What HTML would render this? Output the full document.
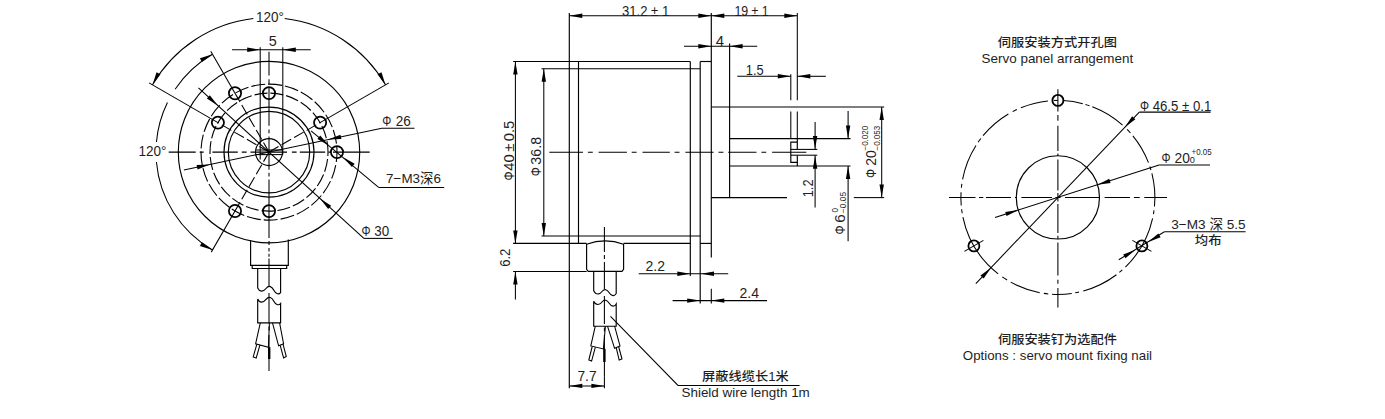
<!DOCTYPE html>
<html lang="zh">
<head>
<meta charset="utf-8">
<title>Encoder outline drawing</title>
<style>
html,body{margin:0;padding:0;background:#fff}
svg{display:block}
.n{fill:none;stroke:#000;stroke-width:1.05}
.k{fill:none;stroke:#000;stroke-width:2.4}
.m{fill:none;stroke:#000;stroke-width:1.15}
.h{fill:none;stroke:#000;stroke-width:1.75}
.c{fill:none;stroke:#000;stroke-width:1.1;stroke-dasharray:24 3 4 3}
.c2{fill:none;stroke:#000;stroke-width:1.1;stroke-dasharray:11 3.5}
.c3{fill:none;stroke:#000;stroke-width:1.1;stroke-dasharray:33 4 5 4}
.c4{fill:none;stroke:#000;stroke-width:1.1;stroke-dasharray:26.5 3.5 4 2.5}
.h2{fill:none;stroke:#000;stroke-width:1.8}
.d1{fill:none;stroke:#000;stroke-width:1.1;stroke-dasharray:14 3;stroke-dashoffset:4}
.d2{fill:none;stroke:#000;stroke-width:1.1;stroke-dasharray:13 3;stroke-dashoffset:9}
.dd{fill:none;stroke:#000;stroke-width:1.1;stroke-dasharray:42 4 5 4}
.a{fill:#000;stroke:none}
.t{fill:#1e1e1e;font-family:"Liberation Sans","Noto Sans CJK SC",sans-serif}
.tc{fill:#1e1e1e;font-family:"Liberation Sans","Noto Sans CJK SC",sans-serif;font-weight:500}
</style>
</head>
<body>
<svg width="1385" height="419" viewBox="0 0 1385 419">
<rect x="0" y="0" width="1385" height="419" fill="#ffffff"/>
<circle class="m" cx="269" cy="152.1" r="90.7"/>
<circle class="m" cx="269" cy="152.1" r="45"/>
<circle class="m" cx="269" cy="152.1" r="40.7"/>
<circle class="m" cx="269" cy="152.1" r="13.5"/>
<circle class="d1" cx="269" cy="152.1" r="68"/>
<circle class="d2" cx="269" cy="152.1" r="59"/>
<circle class="h" cx="337" cy="152.1" r="6.1"/>
<circle class="h" cx="235" cy="93.21" r="6.1"/>
<circle class="h" cx="235" cy="210.99" r="6.1"/>
<circle class="h" cx="320.1" cy="122.6" r="6.1"/>
<circle class="h" cx="269" cy="93.1" r="6.1"/>
<circle class="h" cx="217.9" cy="122.6" r="6.1"/>
<circle class="h" cx="269" cy="211.1" r="6.1"/>
<path class="n" d="M168.7 152.1 H195.7 M199.7 152.1 H203.7 M212.4 152.1 H237.8 M241.8 152.1 H246.6 M250.5 152.1 H287 M291.9 152.1 H296.6 M299.8 152.1 H325.2 M328.4 152.1 H331 M333 152.1 H369.7"/>
<path class="n" d="M269 51.8 V75.6 M269 79.3 V84.3 M269 88 V125.7 M269 129.5 V133.2 M269 136.5 V169.7 M269 172.8 V176.5 M269 179.5 V238 M269 241 V245 M269 248 V251.5 M269 253.7 V256.7 M269 258.6 V287 M269 293 V323.5 M269 326.5 V330.5 M269 335 V371"/>
<line class="n" x1="260.2" y1="47.2" x2="260.2" y2="159.5"/>
<line class="n" x1="282.8" y1="47.2" x2="282.8" y2="154.6"/>
<line class="n" x1="232" y1="49.8" x2="310.7" y2="49.8"/>
<polygon class="a" points="260.2,49.8 247.2,52 247.2,47.6"/>
<polygon class="a" points="282.8,49.8 295.8,47.6 295.8,52"/>
<text class="t" x="268.8" y="46.3" font-size="14" textLength="8" lengthAdjust="spacingAndGlyphs">5</text>
<line class="n" x1="255.7" y1="150" x2="282.5" y2="150"/>
<line class="n" x1="255.7" y1="154.6" x2="282.5" y2="154.6"/>
<line class="c2" x1="269" y1="152.1" x2="320.1" y2="122.6"/>
<line class="n" x1="320.1" y1="122.6" x2="388.94" y2="82.85"/>
<line class="c2" x1="269" y1="152.1" x2="217.9" y2="122.6"/>
<line class="n" x1="217.9" y1="122.6" x2="149.06" y2="82.85"/>
<line class="c2" x1="269" y1="152.1" x2="235" y2="93.21"/>
<line class="n" x1="235" y1="93.21" x2="210.75" y2="51.21"/>
<line class="c2" x1="269" y1="152.1" x2="235" y2="210.99"/>
<line class="n" x1="235" y1="210.99" x2="211.25" y2="252.13"/>
<path class="n" d="M385.48 84.85 A134.5 134.5 0 0 0 284.69 18.52"/>
<path class="n" d="M253.31 18.52 A134.5 134.5 0 0 0 152.52 84.85"/>
<polygon class="a" points="385.48,84.85 377.56,74.31 381.47,72.29"/>
<polygon class="a" points="152.52,84.85 156.53,72.29 160.44,74.31"/>
<text class="t" x="256.1" y="21.8" font-size="14" textLength="27.9" lengthAdjust="spacingAndGlyphs">120°</text>
<path class="n" d="M212.5 54.24 A113 113 0 0 0 175.1 89.24"/>
<path class="n" d="M167.44 102.56 A113 113 0 0 0 156.45 142.05"/>
<path class="n" d="M156.43 161.95 A113 113 0 0 0 212.5 249.96"/>
<polygon class="a" points="212.5,54.24 201.89,62.06 199.9,58.14"/>
<polygon class="a" points="212.5,249.96 199.9,246.06 201.89,242.14"/>
<text class="t" x="138.6" y="156.1" font-size="14" textLength="27.9" lengthAdjust="spacingAndGlyphs">120°</text>
<line class="n" x1="198.44" y1="87.89" x2="363.9" y2="238.4"/>
<line class="n" x1="363.9" y1="238.4" x2="392.7" y2="238.4"/>
<polygon class="a" points="217.97,105.66 206.87,98.54 209.83,95.29"/>
<polygon class="a" points="320.03,198.54 331.13,205.66 328.17,208.91"/>
<text class="t" y="235.9" font-size="14" lengthAdjust="spacingAndGlyphs"><tspan x="361.59" textLength="9.05" lengthAdjust="spacingAndGlyphs">Φ</tspan><tspan x="374.3" textLength="14.9" lengthAdjust="spacingAndGlyphs">30</tspan></text>
<line class="n" x1="183.87" y1="170.04" x2="381.8" y2="128.2"/>
<line class="n" x1="381.8" y1="128.2" x2="414.5" y2="128.2"/>
<polygon class="a" points="209.8,164.58 197.53,169.41 196.63,165.1"/>
<polygon class="a" points="328.2,139.62 340.47,134.79 341.37,139.1"/>
<text class="t" y="125.9" font-size="14" lengthAdjust="spacingAndGlyphs"><tspan x="382.19" textLength="9.05" lengthAdjust="spacingAndGlyphs">Φ</tspan><tspan x="395.8" textLength="15.1" lengthAdjust="spacingAndGlyphs">26</tspan></text>
<line class="n" x1="311.08" y1="130.88" x2="378.6" y2="187.4"/>
<line class="n" x1="378.6" y1="187.4" x2="444.2" y2="187.4"/>
<polygon class="a" points="328.87,145.45 317.42,138.92 320.21,135.51"/>
<polygon class="a" points="343.19,157.17 354.64,163.7 351.86,167.1"/>
<text class="t" x="386.12" y="182.8" font-size="13.6" textLength="54.86" lengthAdjust="spacingAndGlyphs">7−M3深6</text>
<path class="m" d="M250.6 240.8 V265.4 H288.3 V239.6"/>
<path class="m" d="M252.2 265.4 V268.5 H286.7 V265.4"/>
<path class="m" d="M257.7 268.5 V288 C259.5 292 263 292.3 266 288.5 C269 284.8 272 286.5 274 290.5 C276 294.5 279 294.6 280.6 292.6 V268.5"/>
<path class="m" d="M257.7 322.9 V299 C259.5 303 263 303.2 266 299.4 C269 295.7 272 297.4 274 301.4 C276 305.4 279 305.5 280.6 303.5 V322.9 Z"/>
<path class="n" d="M260.3 322.9 L255.6 343.8 L268.4 347.2 L269.4 322.9"/>
<path class="n" d="M272.5 322.9 L278.6 345.8 L283.6 343.8 L279.6 322.9"/>
<path class="n" d="M256.8 344.4 L253.2 356.9 L256.2 358 L259.9 345.2"/>
<path class="n" d="M280.2 345.4 L283.6 358 L286.3 356.5 L283 344.2"/>
<path class="k" d="M269.2 347.2 V359"/>
<line class="m" x1="513.1" y1="61.5" x2="690.3" y2="61.5"/>
<line class="m" x1="700.2" y1="61.5" x2="711.3" y2="61.5"/>
<line class="m" x1="541.5" y1="68.7" x2="700.2" y2="68.7"/>
<line class="m" x1="513.1" y1="243.4" x2="586.6" y2="243.4"/>
<line class="m" x1="623.6" y1="243.4" x2="690.3" y2="243.4"/>
<line class="m" x1="700.2" y1="243.4" x2="711.3" y2="243.4"/>
<line class="m" x1="541.5" y1="236" x2="700.2" y2="236"/>
<line class="m" x1="569.3" y1="12.9" x2="569.3" y2="388.3"/>
<line class="m" x1="578.5" y1="61.5" x2="578.5" y2="243.4"/>
<line class="m" x1="690.3" y1="61.5" x2="690.3" y2="275.9"/>
<line class="m" x1="700.2" y1="61.5" x2="700.2" y2="303.4"/>
<line class="m" x1="711.3" y1="12.9" x2="711.3" y2="257.5"/>
<line class="n" x1="711.3" y1="288.7" x2="711.3" y2="303.4"/>
<line class="m" x1="729.6" y1="43.5" x2="729.6" y2="197.6"/>
<line class="m" x1="711.3" y1="107" x2="884.2" y2="107"/>
<line class="m" x1="711.3" y1="197.6" x2="787" y2="197.6"/>
<line class="n" x1="853.8" y1="197.6" x2="884.2" y2="197.6"/>
<line class="m" x1="729.6" y1="138.6" x2="850.5" y2="138.6"/>
<line class="m" x1="729.6" y1="166" x2="850.5" y2="166"/>
<path class="m" d="M797.3 138.6 V149.4 M797.3 155.2 V166"/>
<path class="m" d="M797.3 142.1 H790.8 V162.4 H797.3"/>
<line class="n" x1="790.8" y1="149.4" x2="817.3" y2="149.4"/>
<line class="n" x1="790.8" y1="155.2" x2="817.3" y2="155.2"/>
<path class="n" d="M549.3 152.2 H583 M587.9 152.2 H592.8 M598.6 152.2 H626.9 M631.7 152.2 H636.6 M642.5 152.2 H669.8 M674.6 152.2 H679.5 M685.4 152.2 H713.6 M718.5 152.2 H723.4 M728.2 152.2 H756.5 M761.4 152.2 H766.2 M772.1 152.2 H806.3"/>
<line class="n" x1="569.3" y1="15.7" x2="797.3" y2="15.7"/>
<polygon class="a" points="569.3,15.7 582.3,13.5 582.3,17.9"/>
<polygon class="a" points="711.3,15.7 698.3,17.9 698.3,13.5"/>
<polygon class="a" points="711.3,15.7 724.3,13.5 724.3,17.9"/>
<polygon class="a" points="797.3,15.7 784.3,17.9 784.3,13.5"/>
<text class="t" x="622" y="15.9" font-size="14" textLength="47.2" lengthAdjust="spacingAndGlyphs">31.2 ± 1</text>
<text class="t" x="734.4" y="15.9" font-size="14" textLength="34.3" lengthAdjust="spacingAndGlyphs">19 ± 1</text>
<line class="n" x1="797.3" y1="12.9" x2="797.3" y2="100.3"/>
<line class="n" x1="790.8" y1="74.2" x2="790.8" y2="100.3"/>
<line class="n" x1="797.3" y1="111.5" x2="797.3" y2="138.6"/>
<line class="n" x1="790.8" y1="111.5" x2="790.8" y2="138.6"/>
<line class="n" x1="684" y1="46.2" x2="757.2" y2="46.2"/>
<polygon class="a" points="711.3,46.2 698.3,48.4 698.3,44"/>
<polygon class="a" points="729.6,46.2 742.6,44 742.6,48.4"/>
<text class="t" x="715.7" y="45.5" font-size="14" textLength="8.3" lengthAdjust="spacingAndGlyphs">4</text>
<line class="n" x1="737.3" y1="76.3" x2="790.8" y2="76.3"/>
<line class="n" x1="797.3" y1="76.3" x2="825.8" y2="76.3"/>
<polygon class="a" points="790.8,76.3 777.8,78.5 777.8,74.1"/>
<polygon class="a" points="797.3,76.3 810.3,74.1 810.3,78.5"/>
<text class="t" x="745.8" y="74.7" font-size="14" textLength="17.9" lengthAdjust="spacingAndGlyphs">1.5</text>
<line class="n" x1="515.4" y1="61.5" x2="515.4" y2="243.4"/>
<polygon class="a" points="515.4,61.5 517.6,74.5 513.2,74.5"/>
<polygon class="a" points="515.4,243.4 513.2,230.4 517.6,230.4"/>
<text class="t" font-size="14" style="word-spacing:-1.6px" transform="translate(513.7 178.7) rotate(-90)"><tspan x="-1.81" y="0" textLength="9.05" lengthAdjust="spacingAndGlyphs">Φ</tspan><tspan x="8.06" y="0" textLength="49.98" lengthAdjust="spacingAndGlyphs">40 ± 0.5</tspan></text>
<line class="n" x1="543.8" y1="68.7" x2="543.8" y2="236"/>
<polygon class="a" points="543.8,68.7 546,81.7 541.6,81.7"/>
<polygon class="a" points="543.8,236 541.6,223 546,223"/>
<text class="t" font-size="14" transform="translate(540.8 174.5) rotate(-90)"><tspan x="-1.81" y="0" textLength="9.05" lengthAdjust="spacingAndGlyphs">Φ</tspan><tspan x="9.66" y="0" textLength="27.98" lengthAdjust="spacingAndGlyphs">36.8</tspan></text>
<line class="n" x1="513.1" y1="271.4" x2="586.6" y2="271.4"/>
<line class="n" x1="515.4" y1="271.4" x2="515.4" y2="299.4"/>
<polygon class="a" points="515.4,271.4 517.6,284.4 513.2,284.4"/>
<text class="t" font-size="14" textLength="18.28" lengthAdjust="spacingAndGlyphs" transform="translate(510.3 266.84) rotate(-90)">6.2</text>
<path class="m" d="M586.6 244.3 Q605 237.4 623.6 244.3 V269.3 L622 271.3 H588.2 L586.6 269.3 Z"/>
<path class="m" d="M593.7 271.4 V290.7 C596 295.5 600 294.5 602.5 291 C604.5 288.5 607 289.5 609 292.5 C611.5 296.5 614.5 296.5 616.2 293.5 V271.4"/>
<path class="m" d="M593.7 326.2 V301.2 C596 306 600 305 602.5 301.5 C604.5 299 607 300 609 303 C611.5 307 614.5 307 616.2 304 V326.2 Z"/>
<path class="n" d="M595.3 326.2 L590.8 345.9 L603.4 348.9 L605.4 326.2"/>
<path class="n" d="M607.5 326.2 L614.6 348.3 L620 345.9 L614.6 326.2"/>
<path class="n" d="M592.2 346.5 L588.8 360 L591.6 361.1 L595.3 347.3"/>
<path class="n" d="M616.2 347.6 L619.2 360 L622 359 L618.6 346.5"/>
<path class="k" d="M604.4 348.9 V362"/>
<path class="n" d="M604.4 227 V252 M604.4 255 V259 M604.4 262 V289 M604.4 296 V324 M604.4 327.5 V331.5 M604.4 335 V376.8"/>
<line class="n" x1="569.3" y1="385.9" x2="604.4" y2="385.9"/>
<line class="n" x1="604.4" y1="376.8" x2="604.4" y2="388.3"/>
<polygon class="a" points="569.3,385.9 582.3,383.7 582.3,388.1"/>
<polygon class="a" points="604.4,385.9 591.4,388.1 591.4,383.7"/>
<text class="t" x="577.4" y="380.6" font-size="14" textLength="19.2" lengthAdjust="spacingAndGlyphs">7.7</text>
<line class="n" x1="638.7" y1="273.7" x2="728.2" y2="273.7"/>
<polygon class="a" points="690.3,273.7 677.3,275.9 677.3,271.5"/>
<polygon class="a" points="701,273.7 714,271.5 714,275.9"/>
<text class="t" x="645.5" y="271.2" font-size="14" textLength="19.4" lengthAdjust="spacingAndGlyphs">2.2</text>
<line class="n" x1="672.6" y1="300.6" x2="767" y2="300.6"/>
<polygon class="a" points="700.2,300.6 687.2,302.8 687.2,298.4"/>
<polygon class="a" points="711.3,300.6 724.3,298.4 724.3,302.8"/>
<text class="t" x="739.5" y="297.6" font-size="14" textLength="19.5" lengthAdjust="spacingAndGlyphs">2.4</text>
<path class="n" d="M610.5 316.4 L678 385.4 H799.6"/>
<text class="tc" x="702.08" y="381" font-size="12.4" textLength="86.75" lengthAdjust="spacingAndGlyphs">屏蔽线缆长1米</text>
<text class="t" x="681.52" y="397.2" font-size="13.6" textLength="128.26" lengthAdjust="spacingAndGlyphs">Shield wire length 1m</text>
<line class="n" x1="815.1" y1="122" x2="815.1" y2="149.4"/>
<line class="n" x1="815.1" y1="155.2" x2="815.1" y2="207.4"/>
<polygon class="a" points="815.1,149 812.9,136 817.3,136"/>
<polygon class="a" points="815.1,155.8 817.3,168.8 812.9,168.8"/>
<text class="t" font-size="14" textLength="17.88" lengthAdjust="spacingAndGlyphs" transform="translate(812.6 197.34) rotate(-90)">1.2</text>
<line class="n" x1="848.1" y1="111" x2="848.1" y2="138.6"/>
<line class="n" x1="848.1" y1="166" x2="848.1" y2="241.3"/>
<polygon class="a" points="848.1,138.6 845.9,125.6 850.3,125.6"/>
<polygon class="a" points="848.1,166 850.3,179 845.9,179"/>
<text class="t" font-size="14" transform="translate(845 232.7) rotate(-90)"><tspan x="-1.81" y="0" textLength="9.05" lengthAdjust="spacingAndGlyphs">Φ</tspan><tspan x="10.06" y="0" textLength="8.48" lengthAdjust="spacingAndGlyphs">6</tspan></text>
<text class="t" font-size="8.4" textLength="4.61" lengthAdjust="spacingAndGlyphs" transform="translate(838.2 212.5) rotate(-90)">0</text>
<text class="t" font-size="8.2" textLength="21.38" lengthAdjust="spacingAndGlyphs" transform="translate(846.3 213.19) rotate(-90)">−0.05</text>
<line class="n" x1="881.7" y1="107" x2="881.7" y2="197.6"/>
<polygon class="a" points="881.7,107 883.9,120 879.5,120"/>
<polygon class="a" points="881.7,197.6 879.5,184.6 883.9,184.6"/>
<text class="t" font-size="14" transform="translate(876.4 176.3) rotate(-90)"><tspan x="-1.81" y="0" textLength="9.05" lengthAdjust="spacingAndGlyphs">Φ</tspan><tspan x="10.56" y="0" textLength="15.48" lengthAdjust="spacingAndGlyphs">20</tspan></text>
<text class="t" font-size="8.4" textLength="24.71" lengthAdjust="spacingAndGlyphs" transform="translate(867.5 150.5) rotate(-90)">−0.020</text>
<text class="t" font-size="8.4" textLength="24.71" lengthAdjust="spacingAndGlyphs" transform="translate(880.4 150.5) rotate(-90)">−0.053</text>
<circle class="m" cx="1057.9" cy="197.4" r="41.6"/>
<path class="n" d="M1154.47 206.53 A97 97 0 0 0 1151.89 173.44"/>
<path class="n" d="M1148.46 162.64 A97 97 0 0 0 1132.86 135.83"/>
<path class="n" d="M1122.55 125.09 A97 97 0 0 0 1092.35 106.72"/>
<path class="n" d="M1082.84 103.66 A97 97 0 0 0 1063.31 100.55"/>
<path class="n" d="M1047.93 100.91 A97 97 0 0 0 1020.94 107.72"/>
<path class="n" d="M1008.38 113.99 A97 97 0 0 0 983.05 135.7"/>
<path class="n" d="M976 145.42 A97 97 0 0 0 962.59 179.39"/>
<path class="n" d="M961.03 192.32 A97 97 0 0 0 961.24 205.52"/>
<path class="n" d="M962.92 217.07 A97 97 0 0 0 998.18 273.84"/>
<path class="n" d="M1010.73 282.16 A97 97 0 0 0 1039.72 292.68"/>
<path class="n" d="M1051.98 294.22 A97 97 0 0 0 1071.74 293.41"/>
<path class="n" d="M1083.33 291.01 A97 97 0 0 0 1116.41 274.77"/>
<path class="n" d="M1125.4 267.06 A97 97 0 0 0 1152.6 218.39"/>
<path class="n" d="M1150.95 170.01 A97 97 0 0 0 1149.83 166.46"/>
<path class="n" d="M1130.44 133 A97 97 0 0 0 1127.09 129.41"/>
<path class="n" d="M1089.48 105.68 A97 97 0 0 0 1085.45 104.39"/>
<path class="n" d="M1016.91 109.49 A97 97 0 0 0 1012.66 111.6"/>
<path class="n" d="M980.84 138.48 A97 97 0 0 0 978.15 142.18"/>
<path class="n" d="M961.84 183.9 A97 97 0 0 0 961.38 187.77"/>
<path class="n" d="M961.62 209.22 A97 97 0 0 0 962.2 213.24"/>
<path class="n" d="M1002.26 276.86 A97 97 0 0 0 1007.07 280.02"/>
<path class="n" d="M1043.9 293.38 A97 97 0 0 0 1048.27 293.92"/>
<path class="n" d="M1075.24 292.84 A97 97 0 0 0 1079.06 292.06"/>
<path class="n" d="M1119.34 272.46 A97 97 0 0 0 1122.3 269.94"/>
<path class="n" d="M1153.46 214.08 A97 97 0 0 0 1154.03 210.4"/>
<path class="n" d="M949 197.4 H975.5 M979 197.4 H983.3 M985.9 197.4 H1011 M1015 197.4 H1017 M1021.4 197.4 H1052 M1055.5 197.4 H1060.5 M1065 197.4 H1100 M1104.6 197.4 H1130 M1133.9 197.4 H1139.7 M1144.3 197.4 H1167"/>
<path class="n" d="M1057.9 89.3 V111.5 M1057.9 115 V120.8 M1057.9 125.8 V151 M1057.9 153.6 V156 M1057.9 159.4 V190.4 M1057.9 193 V201.5 M1057.9 204 V233 M1057.9 235.7 V239 M1057.9 242.6 V275.5 M1057.9 279.7 V283.8 M1057.9 287.9 V307.5"/>
<line class="n" x1="1053.7" y1="100.4" x2="1057.9" y2="100.4"/>
<circle class="h2" cx="1057.9" cy="100.4" r="5.5"/>
<circle class="h2" cx="973.9" cy="245.9" r="5.5"/>
<line class="n" x1="983.42" y1="240.4" x2="964.37" y2="251.4"/>
<circle class="h2" cx="1141.9" cy="245.9" r="5.5"/>
<line class="n" x1="1132.38" y1="240.4" x2="1151.43" y2="251.4"/>
<line class="n" x1="975.84" y1="283.58" x2="1139.3" y2="112.1"/>
<line class="n" x1="1139.3" y1="112.1" x2="1210.6" y2="112.1"/>
<polygon class="a" points="1124.79,127.16 1132.16,116.22 1135.35,119.26"/>
<polygon class="a" points="991.01,267.64 983.64,278.58 980.45,275.54"/>
<text class="t" y="111.3" font-size="14" lengthAdjust="spacingAndGlyphs"><tspan x="1140.09" textLength="9.05" lengthAdjust="spacingAndGlyphs">Φ</tspan><tspan x="1152.7" textLength="58.6" lengthAdjust="spacingAndGlyphs">46.5 ± 0.1</tspan></text>
<line class="n" x1="995.02" y1="217.47" x2="1159.1" y2="165"/>
<line class="n" x1="1159.1" y1="165" x2="1210" y2="165"/>
<polygon class="a" points="1097.53,184.75 1109.25,178.7 1110.58,182.9"/>
<polygon class="a" points="1018.27,210.05 1006.55,216.1 1005.22,211.9"/>
<text class="t" y="162.6" font-size="14" lengthAdjust="spacingAndGlyphs"><tspan x="1161.59" textLength="9.05" lengthAdjust="spacingAndGlyphs">Φ</tspan><tspan x="1174.5" textLength="15.3" lengthAdjust="spacingAndGlyphs">20</tspan></text>
<text class="t" x="1189.78" y="163.4" font-size="8.4" textLength="5.14" lengthAdjust="spacingAndGlyphs">0</text>
<text class="t" x="1191.48" y="155.4" font-size="8.4" textLength="20.24" lengthAdjust="spacingAndGlyphs">+0.05</text>
<line class="n" x1="1118.76" y1="259.81" x2="1164.4" y2="231.8"/>
<line class="n" x1="1164.4" y1="231.8" x2="1245.6" y2="231.8"/>
<polygon class="a" points="1148.33,242.04 1158.34,233.46 1160.61,237.23"/>
<polygon class="a" points="1135.48,249.76 1125.47,258.34 1123.2,254.57"/>
<text class="t" x="1171.32" y="229.4" font-size="13.6" textLength="74.36" lengthAdjust="spacingAndGlyphs">3−M3 深 5.5</text>
<text class="tc" x="1194.88" y="245.2" font-size="12.4" textLength="26.75" lengthAdjust="spacingAndGlyphs">均布</text>
<text class="tc" x="997.78" y="46.9" font-size="12.4" textLength="119.25" lengthAdjust="spacingAndGlyphs">伺服安装方式开孔图</text>
<text class="t" x="981.62" y="63.3" font-size="13.5" textLength="151.55" lengthAdjust="spacingAndGlyphs">Servo panel arrangement</text>
<text class="tc" x="997.98" y="344.2" font-size="12.4" textLength="118.95" lengthAdjust="spacingAndGlyphs">伺服安装钉为选配件</text>
<text class="t" x="962.83" y="360.3" font-size="13.5" textLength="189.25" lengthAdjust="spacingAndGlyphs">Options : servo mount fixing nail</text>
</svg>
</body>
</html>
